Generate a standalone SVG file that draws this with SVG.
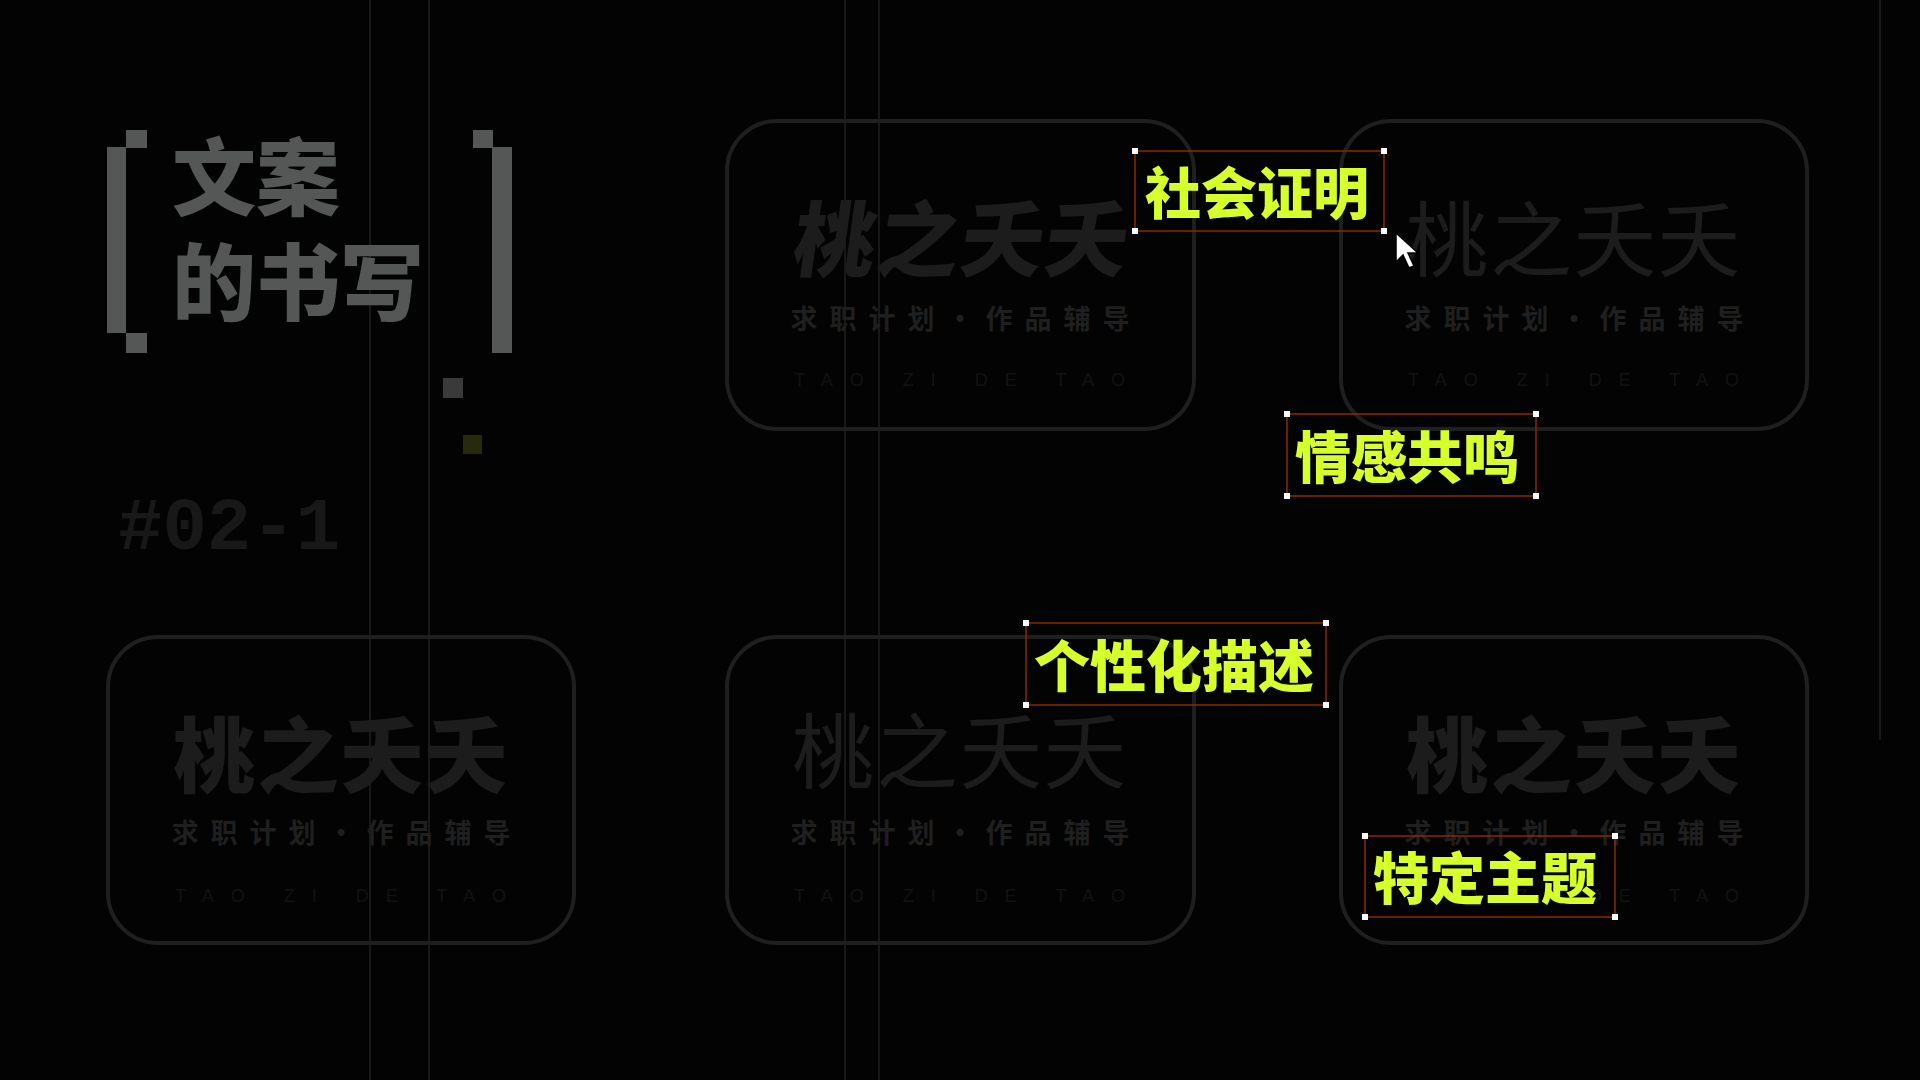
<svg xmlns="http://www.w3.org/2000/svg" width="1920" height="1080" viewBox="0 0 1920 1080">
<style>
.card{fill:none;stroke:#1f1f1f;stroke-width:4}
.t{font-family:"Noto Sans CJK SC",sans-serif;font-weight:900;fill:#1c1c1c;text-anchor:middle;font-size:82px;letter-spacing:2px}
.thin{font-weight:400}
.s{font-family:"Noto Sans CJK SC",sans-serif;font-weight:700;fill:#1f1f1f;text-anchor:middle;font-size:27px;letter-spacing:12px}
.e{font-family:"Liberation Sans",sans-serif;fill:#121212;text-anchor:middle;font-size:18px;letter-spacing:17px}
.lb{fill:none;stroke:#8a2c00;stroke-width:1.5}
.h{fill:#fff}
.lt{font-family:"Noto Sans CJK SC",sans-serif;font-weight:900;fill:#d7ff2c;font-size:56px}
.g{fill:#555756}
.vl{stroke:#181818;stroke-width:2}
</style>
<rect width="1920" height="1080" fill="#030303"/>
<g id="connectors">
<line class="vl" x1="370" y1="0" x2="370" y2="1080"/>
<line class="vl" x1="429" y1="0" x2="429" y2="1080"/>
<line class="vl" x1="845" y1="0" x2="845" y2="1080"/>
<line class="vl" x1="879" y1="0" x2="879" y2="1080"/>
<line class="vl" x1="1880" y1="0" x2="1880" y2="740"/>
</g>
<g id="title">
<rect class="g" x="107" y="147" width="19" height="186"/>
<rect class="g" x="126" y="130" width="21" height="18"/>
<rect class="g" x="126" y="333" width="21" height="20"/>
<rect class="g" x="492" y="147" width="20" height="206"/>
<rect class="g" x="473" y="130" width="20" height="18"/>
<text x="172" y="209" font-family="Noto Sans CJK SC,sans-serif" font-weight="900" font-size="84" fill="#555756">文案</text>
<text x="172" y="314" font-family="Noto Sans CJK SC,sans-serif" font-weight="900" font-size="84" fill="#555756">的书写</text>
<rect x="443" y="378" width="20" height="20" fill="#3a3a3a"/>
<rect x="463" y="435" width="19" height="19" fill="#272a0c"/>
<text x="118" y="549" font-family="Liberation Mono,monospace" font-weight="700" font-size="74" fill="#181818">#02-1</text>
</g>
<g id="card1">
<rect class="card" x="108" y="637" width="466" height="306" rx="50"/>
<text class="t" x="341" y="786">桃之夭夭</text>
<text class="s" x="347" y="843">求职计划·作品辅导</text>
<text class="e" x="349" y="902">TAO ZI DE TAO</text>
</g>
<g id="card2">
<rect class="card" x="727" y="121" width="467" height="308" rx="50"/>
<text class="t" x="960" y="270" transform="skewX(-8) translate(36 0)">桃之夭夭</text>
<text class="s" x="966" y="329">求职计划·作品辅导</text>
<text class="e" x="968" y="386">TAO ZI DE TAO</text>
</g>
<g id="card3">
<rect class="card" x="1341" y="121" width="466" height="308" rx="50"/>
<text class="t thin" x="1574" y="270">桃之夭夭</text>
<text class="s" x="1580" y="329" font-weight="400">求职计划·作品辅导</text>
<text class="e" x="1582" y="386">TAO ZI DE TAO</text>
</g>
<g id="card4">
<rect class="card" x="727" y="637" width="467" height="306" rx="50"/>
<text class="t thin" x="960" y="782">桃之夭夭</text>
<text class="s" x="966" y="843" font-weight="400">求职计划·作品辅导</text>
<text class="e" x="968" y="902">TAO ZI DE TAO</text>
</g>
<g id="card5">
<rect class="card" x="1341" y="637" width="466" height="306" rx="50"/>
<text class="t" x="1574" y="786">桃之夭夭</text>
<text class="s" x="1580" y="843" font-weight="400">求职计划·作品辅导</text>
<text class="e" x="1582" y="902">TAO ZI DE TAO</text>
</g>
<g id="label1">
<rect class="lb" x="1135" y="151" width="249" height="80"/>
<text class="lt" x="1145" y="214">社会证明</text>
<rect class="h" x="1132" y="148" width="6" height="6"/><rect class="h" x="1381" y="148" width="6" height="6"/>
<rect class="h" x="1132" y="228" width="6" height="6"/><rect class="h" x="1381" y="228" width="6" height="6"/>
</g>
<g id="label2">
<rect class="lb" x="1287" y="414" width="249" height="82"/>
<text class="lt" x="1295" y="478">情感共鸣</text>
<rect class="h" x="1284" y="411" width="6" height="6"/><rect class="h" x="1533" y="411" width="6" height="6"/>
<rect class="h" x="1284" y="493" width="6" height="6"/><rect class="h" x="1533" y="493" width="6" height="6"/>
</g>
<g id="label3">
<rect class="lb" x="1026" y="623" width="300" height="82"/>
<text class="lt" x="1034" y="687">个性化描述</text>
<rect class="h" x="1023" y="620" width="6" height="6"/><rect class="h" x="1323" y="620" width="6" height="6"/>
<rect class="h" x="1023" y="702" width="6" height="6"/><rect class="h" x="1323" y="702" width="6" height="6"/>
</g>
<g id="label4">
<rect class="lb" x="1365" y="836" width="250" height="81"/>
<text class="lt" x="1373" y="899">特定主题</text>
<rect class="h" x="1362" y="833" width="6" height="6"/><rect class="h" x="1612" y="833" width="6" height="6"/>
<rect class="h" x="1362" y="914" width="6" height="6"/><rect class="h" x="1612" y="914" width="6" height="6"/>
</g>
<g id="cursor">
<path d="M1396 233 L1396 262 L1403 255 L1409 268 L1414 266 L1408 253 L1418 253 Z" fill="#fff" stroke="#000" stroke-width="1.5"/>
</g>
</svg>
